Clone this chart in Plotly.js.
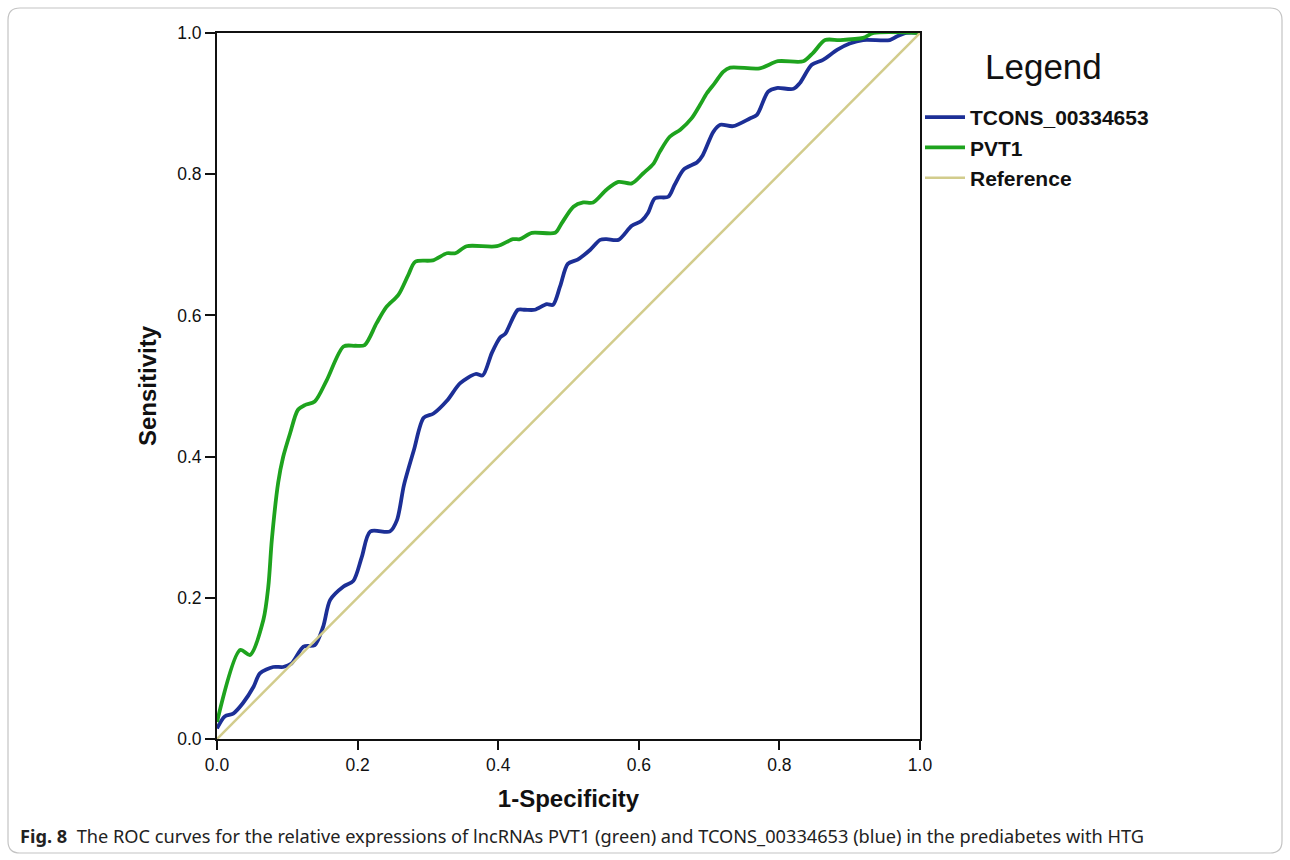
<!DOCTYPE html>
<html>
<head>
<meta charset="utf-8">
<script src="https://cdn.plot.ly/plotly-3.0.1.min.js"></script>
<style>
html,body{margin:0;padding:0;background:#fff;}
#chart{width:1290px;height:860px;}
</style>
</head>
<body>
<div id="chart"></div>
<script>
// PVT1 ROC curve (1-Specificity, Sensitivity)
const pvt1X = [0, 0.033, 0.047, 0.066, 0.073, 0.078, 0.087, 0.094, 0.104, 0.115, 0.125, 0.139, 0.156, 0.180, 0.196, 0.210, 0.227, 0.241, 0.258, 0.272, 0.282, 0.307, 0.327, 0.339, 0.355, 0.398, 0.421, 0.431, 0.448, 0.481, 0.490, 0.507, 0.521, 0.535, 0.554, 0.571, 0.590, 0.606, 0.621, 0.630, 0.644, 0.659, 0.675, 0.687, 0.697, 0.708, 0.720, 0.730, 0.772, 0.798, 0.834, 0.848, 0.865, 0.886, 0.919, 0.934, 1.0];
const pvt1Y = [0.024, 0.126, 0.119, 0.169, 0.216, 0.282, 0.363, 0.399, 0.433, 0.466, 0.473, 0.478, 0.508, 0.556, 0.557, 0.558, 0.589, 0.612, 0.629, 0.657, 0.676, 0.678, 0.688, 0.688, 0.698, 0.698, 0.708, 0.708, 0.717, 0.717, 0.730, 0.754, 0.760, 0.760, 0.778, 0.789, 0.787, 0.801, 0.815, 0.832, 0.853, 0.863, 0.879, 0.898, 0.915, 0.929, 0.945, 0.951, 0.950, 0.960, 0.960, 0.972, 0.990, 0.990, 0.993, 1.0, 1.0];

// TCONS_00334653 ROC curve
const tconsX = [0, 0.011, 0.023, 0.037, 0.052, 0.061, 0.080, 0.094, 0.106, 0.123, 0.139, 0.151, 0.161, 0.180, 0.194, 0.206, 0.218, 0.246, 0.256, 0.266, 0.280, 0.294, 0.308, 0.327, 0.346, 0.368, 0.378, 0.391, 0.403, 0.410, 0.428, 0.438, 0.452, 0.469, 0.478, 0.488, 0.499, 0.513, 0.531, 0.545, 0.554, 0.571, 0.590, 0.604, 0.613, 0.623, 0.642, 0.651, 0.664, 0.683, 0.691, 0.706, 0.716, 0.734, 0.758, 0.768, 0.784, 0.796, 0.820, 0.829, 0.846, 0.862, 0.882, 0.900, 0.919, 0.957, 0.967, 0.981, 1.0];
const tconsY = [0.015, 0.032, 0.036, 0.051, 0.074, 0.093, 0.102, 0.102, 0.107, 0.131, 0.133, 0.159, 0.197, 0.216, 0.224, 0.258, 0.294, 0.294, 0.310, 0.360, 0.409, 0.455, 0.461, 0.479, 0.504, 0.517, 0.515, 0.547, 0.569, 0.574, 0.608, 0.608, 0.608, 0.616, 0.615, 0.641, 0.673, 0.679, 0.693, 0.707, 0.708, 0.707, 0.727, 0.734, 0.745, 0.766, 0.768, 0.785, 0.807, 0.817, 0.827, 0.860, 0.870, 0.868, 0.879, 0.884, 0.917, 0.922, 0.921, 0.929, 0.955, 0.962, 0.976, 0.985, 0.990, 0.990, 0.995, 1.0, 1.0];

// Reference diagonal
const refX = [0, 1];
const refY = [0, 1];

const tickVals = [0, 0.2, 0.4, 0.6, 0.8, 1.0];
const tickText = ["0.0", "0.2", "0.4", "0.6", "0.8", "1.0"];

const seriesNames = ["TCONS_00334653", "PVT1", "Reference"];
const legendTitle = "Legend";
const captionBold = "Fig. 8";
const captionText = "The ROC curves for the relative expressions of lncRNAs PVT1 (green) and TCONS_00334653 (blue) in the prediabetes with HTG";

const ARIAL = "'Liberation Sans', Arial, sans-serif";

const traces = [
  {x: tconsX, y: tconsY, name: seriesNames[0], mode: "lines",
   line: {color: "#1c2f96", width: 3.8, shape: "spline", smoothing: 0.8}},
  {x: pvt1X, y: pvt1Y, name: seriesNames[1], mode: "lines",
   line: {color: "#1ea31e", width: 3.8, shape: "spline", smoothing: 0.8}},
  {x: refX, y: refY, name: seriesNames[2], mode: "lines",
   line: {color: "#d2cc8c", width: 2.5}}
];

// rounded border path (paper coords)
const L = 217, R = 920, T = 33, B = 739;
const W = R - L, H = B - T;
function px(x){ return (x - L) / W; }
function py(y){ return (B - y) / H; }
const bx0 = 8, bx1 = 1282, by0 = 8, by1 = 853, rad = 12;
const borderPath =
  `M ${px(bx0+rad)} ${py(by0)} L ${px(bx1-rad)} ${py(by0)} Q ${px(bx1)} ${py(by0)} ${px(bx1)} ${py(by0+rad)} ` +
  `L ${px(bx1)} ${py(by1-rad)} Q ${px(bx1)} ${py(by1)} ${px(bx1-rad)} ${py(by1)} ` +
  `L ${px(bx0+rad)} ${py(by1)} Q ${px(bx0)} ${py(by1)} ${px(bx0)} ${py(by1-rad)} ` +
  `L ${px(bx0)} ${py(by0+rad)} Q ${px(bx0)} ${py(by0)} ${px(bx0+rad)} ${py(by0)} Z`;

const layout = {
  width: 1290, height: 860,
  margin: {l: L, r: 1290 - R, t: T, b: 860 - B},
  paper_bgcolor: "#ffffff",
  plot_bgcolor: "#ffffff",
  showlegend: true,
  xaxis: {
    range: [0, 1], tickvals: tickVals, ticktext: tickText,
    showgrid: false, zeroline: false,
    showline: true, linecolor: "#111", linewidth: 2, mirror: true,
    ticks: "outside", ticklen: 9, tickwidth: 2, tickcolor: "#111",
    tickfont: {family: ARIAL, size: 17.5, color: "#111"},
    title: {text: "1-Specificity", font: {family: ARIAL, size: 24, color: "#111", weight: "bold"}, standoff: 16}
  },
  yaxis: {
    range: [0, 1], tickvals: tickVals, ticktext: tickText,
    showgrid: false, zeroline: false,
    showline: true, linecolor: "#111", linewidth: 2, mirror: true,
    ticks: "outside", ticklen: 10, tickwidth: 2, tickcolor: "#111",
    tickfont: {family: ARIAL, size: 17.5, color: "#111"},
    title: {text: "Sensitivity", font: {family: ARIAL, size: 24, color: "#111", weight: "bold"}, standoff: 14}
  },
  legend: {
    x: 1.0, y: py(97), xanchor: "left", yanchor: "top",
    bgcolor: "rgba(0,0,0,0)",
    font: {family: ARIAL, size: 21, color: "#111", weight: "bold"},
    tracegroupgap: 0,
    itemwidth: 40
  },
  shapes: [
    {type: "path", xref: "paper", yref: "paper", path: borderPath,
     line: {color: "#c4c4c4", width: 1.2}, fillcolor: "rgba(0,0,0,0)", layer: "below"}
  ],
  annotations: [
    {xref: "paper", yref: "paper", x: px(1043), y: py(66), xanchor: "center", yanchor: "middle",
     showarrow: false, text: legendTitle,
     font: {family: ARIAL, size: 35, color: "#111", weight: "normal"}},
    {xref: "paper", yref: "paper", x: px(18), y: py(836), xanchor: "left", yanchor: "middle",
     showarrow: false, align: "left",
     text: "<b>" + captionBold + "</b>  " + captionText,
     font: {family: "'Noto Sans', sans-serif", size: 18.2, color: "#222"}}
  ]
};

Plotly.newPlot("chart", traces, layout, {displayModeBar: false, staticPlot: true});
</script>
</body>
</html>
